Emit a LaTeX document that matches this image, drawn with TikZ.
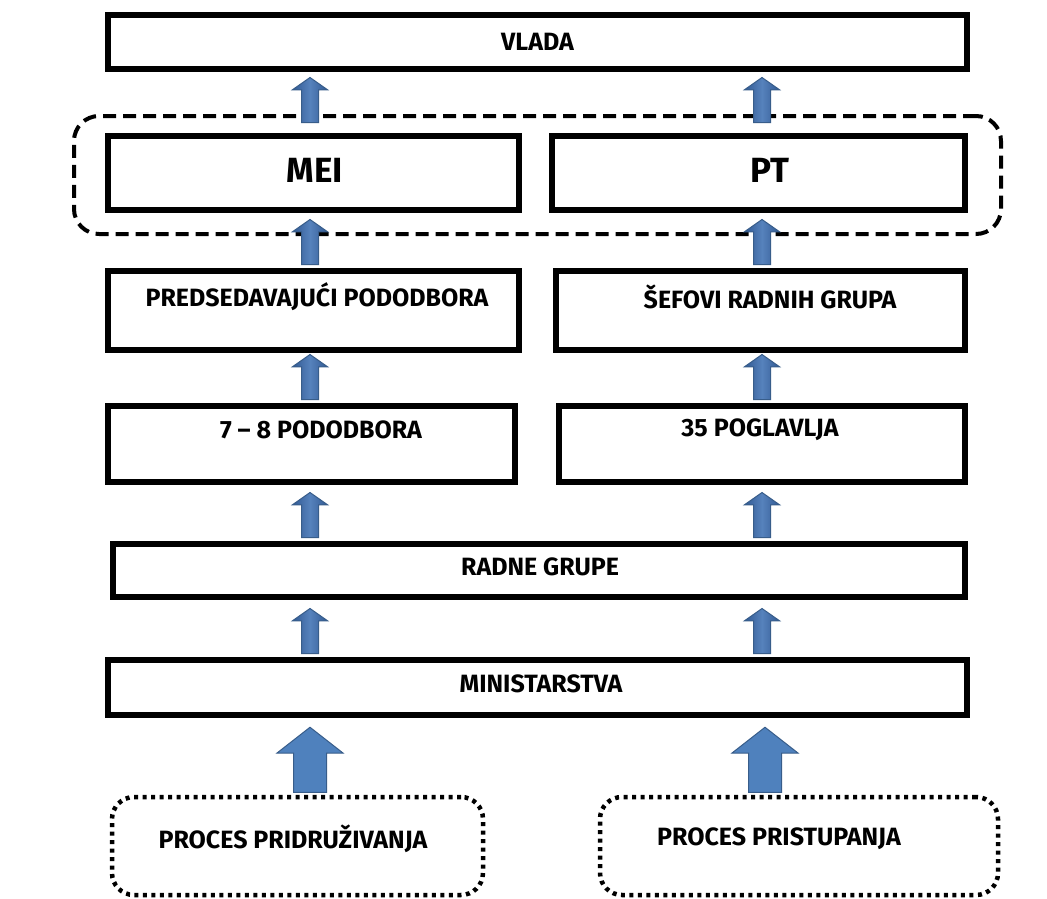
\documentclass[tikz,border=0pt]{standalone}
\usepackage{fontspec}
\setmainfont{Fira Sans}
\usetikzlibrary{positioning,shapes.arrows}
\definecolor{arrowfill}{RGB}{79,129,189}
\definecolor{arrowline}{RGB}{56,93,138}
\definecolor{arrowdark}{RGB}{50,90,148}
\definecolor{arrowlight}{RGB}{86,130,188}

\begin{document}
\begin{tikzpicture}[x=1pt, y=-1pt,
  box/.style={draw, line width=6pt, inner sep=0pt},
  procbox/.style={draw, line width=4.5pt, dash pattern=on 4pt off 4.5pt, rounded corners=22pt, inner sep=0pt},
  lbl/.style={font=\fontsize{25}{29}\selectfont\bfseries, inner sep=0pt},
  biglbl/.style={font=\fontsize{35}{42}\selectfont\bfseries, inner sep=0pt},
  arrowbase/.style={single arrow, shape border rotate=90, draw=arrowline, line width=1pt, anchor=tail},
  uparrow/.style={arrowbase, left color=arrowdark, right color=arrowdark, middle color=arrowlight,
    inner sep=8pt, minimum height=45pt, minimum width=34pt, single arrow head extend=9pt, single arrow tip angle=110},
  bigarrow/.style={arrowbase, fill=arrowfill, inner sep=16pt, minimum height=65pt, minimum width=65pt,
    single arrow head extend=16.5pt, single arrow tip angle=104}]

\fill[white] (0,0) rectangle (1047,899);
\useasboundingbox (0,0) rectangle (1047,899);

\coordinate (colL) at (310,0);
\coordinate (colR) at (762,0);
\coordinate (colBR) at (765,0);

% boxes
\node[box, minimum width=859pt, minimum height=54pt] (vlada) at (537.5,42) {};
\node[draw, line width=4pt, dash pattern=on 13pt off 7pt, rounded corners=25pt, inner sep=0pt,
  minimum width=927pt, minimum height=118pt] (grp) at (537.5,175) {};
\node[box, minimum width=411pt, minimum height=74pt] (mei) at (313.5,173) {};
\node[box, minimum width=413pt, minimum height=74pt] (pt) at (758.5,173) {};
\node[box, minimum width=411pt, minimum height=79pt] (pred) at (313.5,310.5) {};
\node[box, minimum width=409pt, minimum height=79pt] (sefovi) at (760.5,310.5) {};
\node[box, minimum width=407pt, minimum height=76pt] (pododb) at (311.5,444) {};
\node[box, minimum width=406pt, minimum height=76pt] (pogl) at (762,444) {};
\node[box, minimum width=852pt, minimum height=53pt] (radne) at (539,570.5) {};
\node[box, minimum width=859pt, minimum height=55pt] (minist) at (537.5,687.5) {};
\node[procbox, minimum width=371pt, minimum height=98pt] (pridr) at (297.5,846) {};
\node[procbox, minimum width=398pt, minimum height=98pt] (pristup) at (799,846) {};

% texts
\node[lbl] (vladaT) at (vlada.center) {VLADA};
\node[biglbl] (meiT) at ([xshift=1.5pt, yshift=3pt]mei.center) {MEI};
\node[biglbl] (ptT) at ([xshift=11.5pt, yshift=3pt]pt.center) {PT};
\node[lbl] (predT) at ([xshift=3.5pt, yshift=13.5pt]pred.center) {PREDSEDAVAJUĆI PODODBORA};
\node[lbl] (sefoviT) at ([xshift=9.5pt, yshift=13.5pt]sefovi.center) {ŠEFOVI RADNIH GRUPA};
\node[lbl] (pododbT) at ([xshift=9.5pt, yshift=14pt]pododb.center) {7 – 8 PODODBORA};
\node[lbl] (poglT) at ([xshift=-2pt, yshift=14pt]pogl.center) {35 POGLAVLJA};
\node[lbl] (radneT) at ([xshift=1pt, yshift=3.5pt]radne.center) {RADNE GRUPE};
\node[lbl] (ministT) at ([xshift=3.5pt, yshift=3.5pt]minist.center) {MINISTARSTVA};
\node[lbl] (pridrT) at ([xshift=-4.5pt, yshift=7pt]pridr.center) {PROCES PRIDRUŽIVANJA};
\node[lbl] (pristupT) at ([xshift=-20pt, yshift=7pt]pristup.center) {PROCES PRISTUPANJA};

% arrows
\node[uparrow] (upMeiL) at ([yshift=10pt]mei.north -| colL) {};
\node[uparrow] (upMeiR) at ([yshift=10pt]pt.north -| colR) {};
\node[uparrow] (upPredL) at ([yshift=3pt]pred.north -| colL) {};
\node[uparrow] (upPredR) at ([yshift=3pt]sefovi.north -| colR) {};
\node[uparrow] (upPodL) at ([yshift=3pt]pododb.north -| colL) {};
\node[uparrow] (upPodR) at ([yshift=3pt]pogl.north -| colR) {};
\node[uparrow] (upRadL) at ([yshift=3pt]radne.north -| colL) {};
\node[uparrow] (upRadR) at ([yshift=3pt]radne.north -| colR) {};
\node[uparrow] (upMinL) at ([yshift=3pt]minist.north -| colL) {};
\node[uparrow] (upMinR) at ([yshift=3pt]minist.north -| colR) {};
\node[bigarrow] (upProcL) at ([yshift=2pt]pridr.north -| colL) {};
\node[bigarrow] (upProcR) at ([yshift=2pt]pristup.north -| colBR) {};

\end{tikzpicture}
\end{document}
